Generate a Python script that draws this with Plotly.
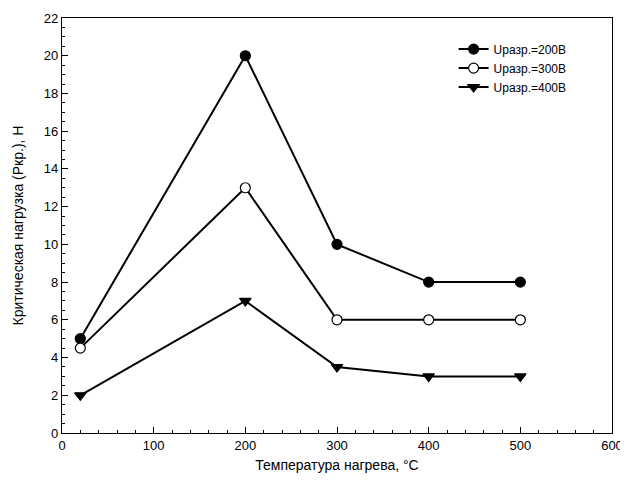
import plotly.graph_objects as go

temps = [20, 200, 300, 400, 500]
u200 = [5, 20, 10, 8, 8]
u300 = [4.5, 13, 6, 6, 6]
u400 = [2, 7, 3.5, 3, 3]
names = ["Uразр.=200В", "Uразр.=300В", "Uразр.=400В"]

fig = go.Figure()
styles = [
    dict(symbol="circle", color="black", line=dict(color="black", width=1.2)),
    dict(symbol="circle", color="white", line=dict(color="black", width=1.2)),
    dict(symbol="triangle-down", color="black", line=dict(color="black", width=1.2)),
]
for ys, nm, st in zip([u200, u300, u400], names, styles):
    fig.add_trace(go.Scatter(
        x=temps, y=ys, name=nm, mode="lines+markers",
        line=dict(color="black", width=2),
        marker=dict(size=10, **st),
    ))

FONT = "Liberation Sans, Arial"
axis_common = dict(
    showline=True, linecolor="black", linewidth=1.2, mirror=True,
    ticks="inside", ticklen=6, tickcolor="black", tickwidth=1,
    showgrid=False, zeroline=False, automargin=False,
    tickfont=dict(family=FONT, size=13, color="black"),
)
fig.update_xaxes(
    range=[0, 600], dtick=100, tick0=0,
    minor=dict(dtick=20, ticks="inside", ticklen=3, tickcolor="black"),
    title=dict(text="Температура нагрева, °C", font=dict(family=FONT, size=14, color="black"), standoff=8),
    **axis_common,
)
fig.update_yaxes(
    range=[0, 22], dtick=2, tick0=0,
    minor=dict(dtick=0.5, ticks="inside", ticklen=3, tickcolor="black"),
    title=dict(text="Критическая нагрузка (Ркр.), Н", font=dict(family=FONT, size=14, color="black"), standoff=16),
    **axis_common,
)
fig.update_layout(
    width=620, height=479,
    margin=dict(l=54, r=16, t=10, b=54),
    paper_bgcolor="white", plot_bgcolor="white",
    font=dict(family=FONT, color="black"),
    legend=dict(x=0.712, y=0.96, xanchor="left", yanchor="top",
                font=dict(size=12, color="black"), bgcolor="rgba(0,0,0,0)",
                tracegroupgap=0, itemwidth=30),
    showlegend=True,
)
fig.write_html("out.html")
